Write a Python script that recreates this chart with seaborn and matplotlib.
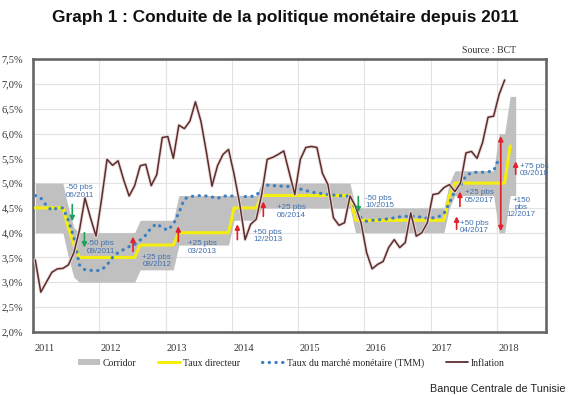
import matplotlib
matplotlib.use('Agg')
import matplotlib.pyplot as plt
import matplotlib.patheffects as pe
from matplotlib.patches import Patch
from matplotlib.lines import Line2D
from matplotlib.ticker import FixedLocator, FuncFormatter
import numpy as np
import seaborn as sns

# monthly series, month 0 = January 2011
inflation = [3.45, 2.8, 3.0, 3.2, 3.27, 3.28, 3.35, 3.6, 4.05, 4.7, 4.3, 3.93,
             4.67, 5.48, 5.36, 5.45, 5.07, 4.74, 4.95, 5.35, 5.38, 4.95, 5.17, 5.92,
             5.94, 5.5, 6.17, 6.1, 6.25, 6.64, 6.25, 5.62, 4.94, 5.35, 5.58, 5.68,
             5.18, 4.6, 3.86, 4.17, 4.27, 4.77, 5.48, 5.52, 5.58, 5.65, 5.21, 4.77,
             5.48, 5.72, 5.74, 5.72, 5.2, 4.97, 4.3, 4.15, 4.2, 4.74, 4.53, 4.2,
             3.6, 3.27, 3.36, 3.42, 3.7, 3.86, 3.7, 3.8, 4.4, 3.93, 4.0, 4.2,
             4.77, 4.79, 4.91, 4.97, 4.83, 5.0, 5.61, 5.64, 5.5, 5.82, 6.33, 6.35,
             6.79, 7.08]

tmm = [4.75, 4.7, 4.55, 4.45, 4.5, 4.5, 4.25, 3.9, 3.35, 3.25, 3.24, 3.23,
       3.25, 3.35, 3.5, 3.6, 3.66, 3.72, 3.76, 3.85, 3.95, 4.1, 4.18, 4.1,
       4.05, 4.17, 4.4, 4.68, 4.73, 4.74, 4.75, 4.74, 4.72, 4.69, 4.74, 4.74,
       4.74, 4.73, 4.73, 4.73, 4.75, 4.88, 4.96, 4.95, 4.94, 4.94, 4.93, 4.91,
       4.88, 4.85, 4.82, 4.8, 4.79, 4.77, 4.76, 4.75, 4.74, 4.74, 4.47, 4.3,
       4.23, 4.25, 4.26, 4.27, 4.28, 4.3, 4.32, 4.33, 4.33, 4.33, 4.31, 4.29,
       4.3, 4.32, 4.38, 4.6, 4.85, 4.95, 5.15, 5.21, 5.22, 5.22, 5.23, 5.25,
       5.5]

taux_directeur = [4.5, 4.5, 4.5, 4.5, 4.5, 4.5, 4.1, 3.75, 3.5, 3.5, 3.5, 3.5,
                  3.5, 3.5, 3.5, 3.5, 3.5, 3.5, 3.5, 3.75, 3.75, 3.75, 3.75, 3.75,
                  3.75, 3.75, 4.0, 4.0, 4.0, 4.0, 4.0, 4.0, 4.0, 4.0, 4.0, 4.0,
                  4.5, 4.5, 4.5, 4.5, 4.5, 4.75, 4.75, 4.75, 4.75, 4.75, 4.75, 4.75,
                  4.75, 4.75, 4.75, 4.75, 4.75, 4.75, 4.75, 4.75, 4.75, 4.75, 4.25, 4.25,
                  4.25, 4.25, 4.25, 4.25, 4.25, 4.25, 4.25, 4.25, 4.25, 4.25, 4.25, 4.25,
                  4.25, 4.25, 4.25, 4.75, 5.0, 5.0, 5.0, 5.0, 5.0, 5.0, 5.0, 5.0,
                  5.0, 5.0, 5.75]

corridor_bas = [4.0, 4.0, 4.0, 4.0, 4.0, 4.0, 3.5, 3.1, 3.0, 3.0, 3.0, 3.0,
                3.0, 3.0, 3.0, 3.0, 3.0, 3.0, 3.0, 3.25, 3.25, 3.25, 3.25, 3.25,
                3.25, 3.25, 3.75, 3.75, 3.75, 3.75, 3.75, 3.75, 3.75, 3.75, 3.75, 3.75,
                4.25, 4.25, 4.25, 4.25, 4.25, 4.5, 4.5, 4.5, 4.5, 4.5, 4.5, 4.5,
                4.5, 4.5, 4.5, 4.5, 4.5, 4.5, 4.5, 4.5, 4.5, 4.5, 4.0, 4.0,
                4.0, 4.0, 4.0, 4.0, 4.0, 4.0, 4.0, 4.0, 4.0, 4.0, 4.0, 4.0,
                4.0, 4.0, 4.0, 4.5, 4.75, 4.75, 4.75, 4.75, 4.75, 4.75, 4.75, 4.75,
                4.0, 4.0, 4.75, 4.75]

corridor_haut = [5.0, 5.0, 5.0, 5.0, 5.0, 5.0, 4.5, 4.1, 4.0, 4.0, 4.0, 4.0,
                 4.0, 4.0, 4.0, 4.0, 4.0, 4.0, 4.0, 4.25, 4.25, 4.25, 4.25, 4.25,
                 4.25, 4.25, 4.75, 4.75, 4.75, 4.75, 4.75, 4.75, 4.75, 4.75, 4.75, 4.75,
                 4.75, 4.75, 4.75, 4.75, 4.75, 5.0, 5.0, 5.0, 5.0, 5.0, 5.0, 5.0,
                 5.0, 5.0, 5.0, 5.0, 5.0, 5.0, 5.0, 5.0, 5.0, 5.0, 4.5, 4.5,
                 4.5, 4.5, 4.5, 4.5, 4.5, 4.5, 4.5, 4.5, 4.5, 4.5, 4.5, 4.5,
                 4.5, 4.5, 4.5, 5.0, 5.25, 5.25, 5.25, 5.25, 5.25, 5.25, 5.25, 5.25,
                 6.0, 6.0, 6.75, 6.75]

annees = ['2011', '2012', '2013', '2014', '2015', '2016', '2017', '2018']

# decisions: text, arrow colour, arrow month, arrow start, arrow end, text month, text level
decisions = [
    ('-50 pbs\n06/2011', 'baisse', 6.7, 4.57, 4.23, 5.6, 4.83),
    ('-50 pbs\n09/2011', 'baisse', 8.9, 4.0, 3.7, 9.4, 3.7),
    ('+25 pbs\n08/2012', 'hausse', 17.7, 3.62, 3.92, 19.4, 3.43),
    ('+25 pbs\n03/2013', 'hausse', 25.9, 3.82, 4.13, 27.7, 3.7),
    ('+50 pbs\n12/2013', 'hausse', 36.6, 3.86, 4.17, 39.5, 3.94),
    ('+25 pbs\n06/2014', 'hausse', 41.3, 4.33, 4.63, 43.8, 4.43),
    ('-50 pbs\n10/2015', 'baisse', 58.5, 4.73, 4.41, 59.7, 4.62),
    ('+50 pbs\n04/2017', 'hausse', 76.3, 4.07, 4.33, 76.9, 4.12),
    ('+25 pbs\n05/2017', 'hausse', 76.9, 4.53, 4.83, 77.8, 4.73),
    ('+75 pbs\n03/2018', 'hausse', 87.0, 5.18, 5.44, 87.8, 5.26),
]
double_decision = ('+150\npbs\n12/2017', 84.3, 5.95, 4.03, 88.0, 4.51)

couleurs = {'hausse': '#e3202a', 'baisse': '#1fa15a'}
c_texte = '#3f6fae'

sns.set_theme(style='white')
plt.rcParams['font.family'] = ['Liberation Serif', 'DejaVu Serif']

fig = plt.figure(figsize=(5.7, 3.95), dpi=100)
ax = fig.add_axes([0.058, 0.16, 0.9, 0.69])

ax.fill_between(np.arange(len(corridor_bas)), corridor_bas, corridor_haut,
                color='#c0c0c0', linewidth=0, zorder=1)
sns.lineplot(x=np.arange(len(taux_directeur)), y=taux_directeur, ax=ax,
             color='#f4ee10', linewidth=2.2, zorder=3)
sns.lineplot(x=np.arange(len(tmm)), y=tmm, ax=ax, color='#3d7fc0',
             linewidth=2.3, linestyle=(0, (0.1, 2.0)), dash_capstyle='round', zorder=4)
sns.lineplot(x=np.arange(len(inflation)), y=inflation, ax=ax, color='#5b2e2e',
             linewidth=1.1, zorder=5,
             path_effects=[pe.Stroke(linewidth=2.4, foreground='#ecd8d8'), pe.Normal()])

for txt, sens, xm, y0, y1, xt, yt in decisions:
    ax.annotate('', xy=(xm, y1), xytext=(xm, y0),
                arrowprops=dict(arrowstyle='-|>', color=couleurs[sens], lw=1.2,
                                mutation_scale=7, shrinkA=0, shrinkB=0), zorder=6)
    ax.text(xt, yt, txt, ha='left', va='center', fontsize=5.8, color=c_texte,
            family='Liberation Sans', linespacing=1.05, zorder=7)

txt, xm, y0, y1, xt, yt = double_decision
ax.annotate('', xy=(xm, y1), xytext=(xm, y0),
            arrowprops=dict(arrowstyle='<|-|>', color=couleurs['hausse'], lw=1.2,
                            mutation_scale=7, shrinkA=0, shrinkB=0), zorder=6)
ax.text(xt, yt, txt, ha='center', va='center', fontsize=5.8, color=c_texte,
        family='Liberation Sans', linespacing=1.0, zorder=7)

ax.set_xlim(-0.4, 92.5)
ax.set_ylim(2.0, 7.5)
ax.yaxis.set_major_locator(FixedLocator(np.arange(2.0, 7.51, 0.5)))
ax.yaxis.set_major_formatter(FuncFormatter(lambda v, p: f'{v:.1f}%'.replace('.', ',')))
ax.xaxis.set_major_locator(FixedLocator([12 * i + 1.7 for i in range(len(annees))]))
ax.xaxis.set_major_formatter(FuncFormatter(lambda v, p: annees[int(round((v - 1.7) / 12))]))
ax.xaxis.set_minor_locator(FixedLocator([12 * i - 0.4 for i in range(1, 8)]))
ax.grid(False)
ax.grid(axis='y', which='major', color='#e2e2e2', linewidth=0.8)
ax.grid(axis='x', which='minor', color='#e2e2e2', linewidth=0.8)
ax.tick_params(axis='both', which='both', length=0, labelsize=7.5, labelcolor='#333333')
ax.tick_params(axis='y', pad=7)
ax.tick_params(axis='x', pad=9)
ax.set_xlabel('')
ax.set_ylabel('')
for s in ax.spines.values():
    s.set_color('#666666')
    s.set_linewidth(1.9)

handles = [
    Patch(facecolor='#c0c0c0', edgecolor='none'),
    Line2D([], [], color='#f4ee10', linewidth=2.2),
    Line2D([], [], color='#3d7fc0', linewidth=2.3, linestyle=(0, (0.1, 2.0)), dash_capstyle='round'),
    Line2D([], [], color='#5b2e2e', linewidth=1.3),
]
labels = ['Corridor', 'Taux directeur', 'Taux du marché monétaire (TMM)', 'Inflation']
fig.legend(handles, labels, loc='center', bbox_to_anchor=(0.511, 0.081), ncol=4,
           frameon=False, fontsize=7, handlelength=2.3, handleheight=0.5,
           columnspacing=2.2, handletextpad=0.3)

fig.text(0.5, 0.955, 'Graph 1 : Conduite de la politique monétaire depuis 2011',
         ha='center', va='center', fontsize=12.4, fontweight='bold',
         family='Liberation Sans', color='#111111')
fig.text(0.858, 0.873, 'Source : BCT', ha='center', va='center', fontsize=7,
         color='#333333')
fig.text(0.874, 0.015, 'Banque Centrale de Tunisie', ha='center', va='center',
         fontsize=7.8, family='Liberation Sans', color='#222222')

fig.savefig('out.png', dpi=100)
